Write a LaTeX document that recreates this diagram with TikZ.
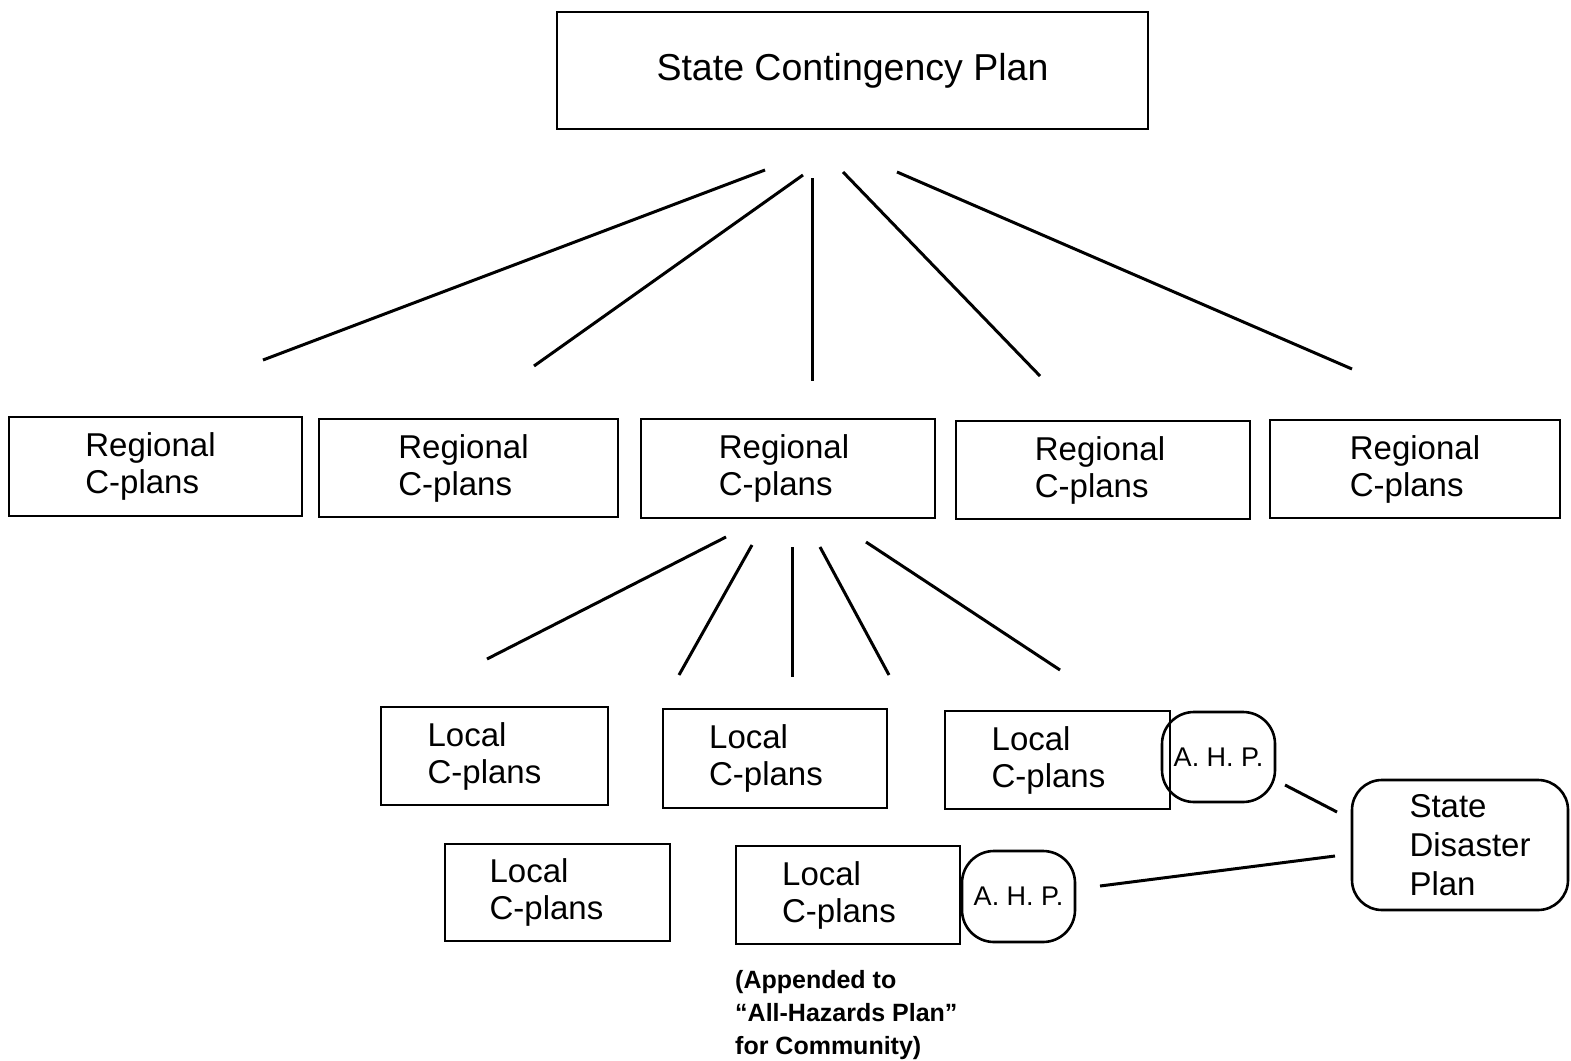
\documentclass[tikz,border=0pt]{standalone}
\usepackage{fontspec}
\setmainfont{Liberation Sans}
\begin{document}
\begin{tikzpicture}[x=1pt,y=-1pt,
 box/.style={draw, line width=2.6pt, inner sep=0pt, align=left, font=\fontsize{33}{37}\selectfont},
 ahp/.style={draw, line width=2.6pt, rounded corners=32pt, inner sep=0pt, minimum width=113pt, minimum height=90pt, font=\fontsize{27}{30}\selectfont},
 conn/.style={line width=3pt}]
\useasboundingbox[fill=white] (0,0) rectangle (1571,1060);
% top
\node[box, minimum width=591pt, minimum height=117pt, font=\fontsize{37.5}{40}\selectfont] (scp) at (852.5,70.5) {State Contingency Plan};
% regional
\node[box, minimum width=293pt, minimum height=99pt] (r1) at (155.5,466.5) {Regional\hspace*{10pt}\\C-plans};
\node[box, minimum width=299pt, minimum height=98pt] (r2) at (468.5,468) {Regional\hspace*{10pt}\\C-plans};
\node[box, minimum width=294pt, minimum height=99pt] (r3) at (788,468.5) {Regional\hspace*{8pt}\\C-plans};
\node[box, minimum width=294pt, minimum height=98pt] (r4) at (1103,470) {Regional\hspace*{6pt}\\C-plans};
\node[box, minimum width=290pt, minimum height=98pt] (r5) at (1415,469) {Regional\\C-plans};
% local
\node[box, minimum width=227pt, minimum height=98pt] (l1) at (494.5,756) {Local\\C-plans\hspace*{20pt}};
\node[box, minimum width=224pt, minimum height=99pt] (l2) at (775,758.5) {Local\\C-plans\hspace*{18pt}};
\node[box, minimum width=225pt, minimum height=98pt] (l3) at (1057.5,760) {Local\\C-plans\hspace*{18pt}};
\node[box, minimum width=225pt, minimum height=97pt] (l4) at (557.5,892.5) {Local\\C-plans\hspace*{22pt}};
\node[box, minimum width=224pt, minimum height=98pt] (l5) at (848,895) {Local\\C-plans\hspace*{18pt}};
% AHP and state disaster plan
\node[ahp] (a1) at (1218.5,757) {A. H. P.};
\node[ahp, minimum height=91pt] (a2) at (1018.5,896.5) {A. H. P.};
\node[box, rounded corners=30pt, minimum width=216pt, minimum height=130pt, font=\fontsize{33}{39}\selectfont] (sdp) at (1460,845) {\hspace*{20pt}State\\\hspace*{20pt}Disaster\\\hspace*{20pt}Plan};
% caption
\node[anchor=north west, align=left, inner sep=0pt, font=\bfseries\fontsize{25}{33}\selectfont] (cap) at (735,970) {(Appended to\\``All-Hazards Plan''\\for Community)};
% connector end points
\coordinate (t1a) at (765,170); \coordinate (t1b) at (263,360);
\coordinate (t2a) at (803,175); \coordinate (t2b) at (534,366);
\coordinate (t3a) at (812,178); \coordinate (t3b) at (812,381);
\coordinate (t4a) at (843,172); \coordinate (t4b) at (1040,376);
\coordinate (t5a) at (897,172); \coordinate (t5b) at (1352,369);
\coordinate (m1a) at (726,537); \coordinate (m1b) at (487,659);
\coordinate (m2a) at (752,545); \coordinate (m2b) at (679,675);
\coordinate (m3a) at (792,547); \coordinate (m3b) at (792,677);
\coordinate (m4a) at (820,547); \coordinate (m4b) at (889,675);
\coordinate (m5a) at (866,542); \coordinate (m5b) at (1060,670);
\coordinate (s1a) at (1285,785); \coordinate (s1b) at (1337,812);
\coordinate (s2a) at (1100,886); \coordinate (s2b) at (1335,856);
\draw[conn] (t1a) -- (t1b);
\draw[conn] (t2a) -- (t2b);
\draw[conn] (t3a) -- (t3b);
\draw[conn] (t4a) -- (t4b);
\draw[conn] (t5a) -- (t5b);
\draw[conn] (m1a) -- (m1b);
\draw[conn] (m2a) -- (m2b);
\draw[conn] (m3a) -- (m3b);
\draw[conn] (m4a) -- (m4b);
\draw[conn] (m5a) -- (m5b);
\draw[conn] (s1a) -- (s1b);
\draw[conn] (s2a) -- (s2b);
\end{tikzpicture}
\end{document}
